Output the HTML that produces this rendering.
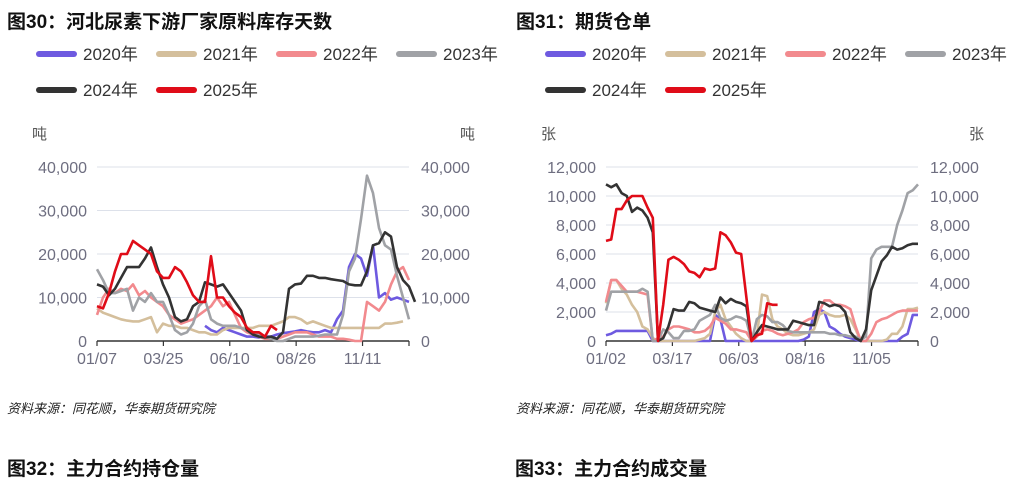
<!DOCTYPE html>
<html><head><meta charset="utf-8">
<style>
body{margin:0;width:1026px;height:495px;background:#fff;overflow:hidden;font-family:"Liberation Sans","Noto Sans CJK SC",sans-serif;}
svg{position:absolute;left:0;top:0}
</style></head>
<body>
<svg id="s" width="1026" height="495"></svg>
<script>
// ---- Chart 1 data (tons, thousands) ----
const c1Ticks = ["01/07","03/25","06/10","08/26","11/11"];
const c1YTicks = [0,10000,20000,30000,40000];
const c1_2020 = [null,null,null,null,null,null,null,null,null,null,null,null,null,null,null,null,null,null,3.5,2.5,2,3,2.5,2,1.5,1,1,0.8,1,1,1.5,1.8,2,2.2,2.5,2.2,2,2,2.5,2,5,7,17,20,19,15,22,10,11,9.5,10,9.5,9];
const c1_2021 = [7.5,6.5,6,5.5,5,4.7,4.5,4.5,5,5.5,2,4,3.5,3.5,3,3,2.5,2,2,1.5,1.5,2.5,3,3,3,3,3,3.5,3.5,3.5,4,4.5,5.5,5.5,5,4,4.5,4,3.5,3,3,3,3,3,3,3,3,3,4,4,4.2,4.5];
const c1_2022 = [6,10,12,11,12,11.5,13,10.5,11.5,10,9,8,6,5,4,4.5,5,6,7,8,10,8,9,6,3,2,1.5,1,0.5,0.5,0.5,1,1.5,2,2,2,1.5,1,1,1,0.5,0.5,0.3,0,0,9,8,7,9,13,16,17,14];
const c1_2023 = [16.5,14,11,11,11.5,12,7,10,9,11,9,9,6,2.5,1.5,2,4,8,9.5,5,4,3.5,3.5,3.5,3,2.5,2,1.5,1,0.5,0,0,0.5,1,1,1,1,1.2,1.5,1.5,1.5,6,16,19,28,38,34,26,22,21,15,10,5];
const c1_2024 = [13,12.5,10.5,12,14.5,17,17,17,19,21.5,17,13,10,5.5,4.5,5,8,9,13.5,13,12.5,13,11,9,7,2.5,1.5,1,0.8,1,0.5,2,12,13,13.2,15,15,14.5,14.5,14.2,14,13.8,13,12.8,12.8,16,22,22.5,25,24,17,14,12.5,9];
const c1_2025 = [8,7.5,11,16,20,20,23,22,21,20,16,14.5,14.5,17,16,13.5,10.5,9,9,19.5,10,10,8,6.5,5.5,3,2,2,1,3.5,2.5];
// ---- Chart 2 data (sheets, thousands) ----
const c2Ticks = ["01/02","03/17","06/03","08/16","11/05"];
const c2YTicks = [0,2000,4000,6000,8000,10000,12000];
const c2_2020 = [0.4,0.5,0.7,0.7,0.7,0.7,0.7,0.7,0.7,0,0,0,0,0,0,0,0,0,0,0,0,1.8,1.5,0,0,0,0,0,0,0,0,0,0,0,0,0,0,0,0.1,0.3,2.0,2.2,2.0,1.0,0.8,0.5,0.3,0.2,0.1,0,0,0,0,0,0,0,0,0.3,0.5,1.8,1.8];
const c2_2021 = [2.6,4.2,4.2,3.6,3.2,2.5,2.0,1.0,0.8,0.2,0,0,0,0,0,0,0,0,0.1,0.2,0.5,2.0,2.5,1.5,1.0,0.5,0.2,0,0,0.3,3.2,3.1,1.5,1.0,0.8,0.5,0.4,0.4,0.5,0.6,0.8,1.8,2.0,1.8,1.7,1.7,1.8,1.5,0.8,0,0,0,0,0,0.1,0.5,0.5,1.0,2.2,2.2,2.3];
const c2_2022 = [2.7,4.2,4.2,3.8,3.4,3.4,3.4,3.3,3.2,0,0.2,0.3,0.8,1.0,1.0,0.9,0.8,0.6,0.6,0.7,1.0,1.6,1.4,1.2,0.8,0.8,0.7,0.6,0,0.3,0.7,0.8,0.7,0.5,0.4,0.5,0.6,0.8,1.3,1.5,1.6,2.0,2.8,2.8,2.5,2.5,2.4,2.2,1.0,0,0,0.5,1.3,1.5,1.6,1.8,2.0,2.1,2.1,2.1,2.1];
const c2_2023 = [2.1,3.4,3.4,3.4,3.4,3.4,3.4,3.6,3.4,0,0,0.8,0.6,0.2,0.2,0.7,0.7,0.8,1.4,1.6,1.8,2.5,1.6,1.4,1.5,1.7,1.6,1.4,0,1.5,1.8,1.7,1.3,1.3,1.1,0.7,0.6,0.6,0.6,0.6,0.6,0.6,0.6,0.5,0.5,0.4,0.4,0.3,0.3,0.1,0.3,5.7,6.3,6.5,6.5,6.5,8,9,10.2,10.4,10.8];
const c2_2024 = [10.8,10.6,10.8,10.2,10.0,8.9,9.2,9.0,8.5,7.5,0,0.2,1.0,2.2,2.1,2.1,2.7,2.6,2.3,2.2,2.1,2.0,3.0,2.6,2.9,2.7,2.6,2.4,0,0.6,1.1,1.0,0.9,0.8,0.8,0.8,1.4,1.3,1.2,1.1,1.1,2.7,2.6,2.4,2.5,2.4,2.0,0.6,0.2,0,0.8,3.5,4.5,5.5,5.9,6.5,6.3,6.4,6.6,6.7,6.7];
const c2_2025 = [6.9,7.0,9.1,9.1,9.7,10,10,10,9.2,8.5,0,2.5,5.6,5.8,5.6,5.3,4.8,4.7,4.4,5.0,4.9,5.0,7.5,7.3,6.8,6.1,6.0,3.0,0,0.4,0.5,2.6,2.5,2.5];

const legendNames = ["2020年","2021年","2022年","2023年","2024年","2025年"];
const colors = ["#6e5ae0","#d4bf9c","#f28a8e","#a0a2a6","#333333","#e00c18"];
const NS="http://www.w3.org/2000/svg";
const svg=document.getElementById('s');
function el(tag,attrs,parent){const e=document.createElementNS(NS,tag);for(const k in attrs)e.setAttribute(k,attrs[k]);(parent||svg).appendChild(e);return e;}
function txt(x,y,s,attrs,parent){const t=el('text',Object.assign({x:x,y:y},attrs),parent);t.textContent=s;return t;}

function drawChart(off,title,unit,yTicks,yMax,xTicks,series,nPts,name){
  const g=el('g',{});
  
  
  const x0=97+off,x1=409+off,yB=341,yT=167;
  const ys=v=>yB-(v/yMax)*(yB-yT);
  const xs=i=>x0+i*(x1-x0)/(nPts-1);
  const t=txt(7+off,28,title,{'font-size':19,'font-weight':'bold',fill:'#111'},g);
  
  
  for(let k=0;k<6;k++){
    const lx=39+off+(k%4)*120, ly=k<4?54:90;
    const lg=el('g',{},g);
    
    
    el('line',{x1:lx,y1:ly,x2:lx+35,y2:ly,stroke:colors[k],'stroke-width':6,'stroke-linecap':'round'},lg);
    txt(lx+44,ly+6,legendNames[k],{'font-size':17,fill:'#333'},lg);
  }
  const u1=txt(32+off,139,unit,{'font-size':15,fill:'#555'},g);
  
  
  const u2=txt(460+off,139,unit,{'font-size':15,fill:'#555'},g);
  
  
  yTicks.forEach(v=>{
    const y=ys(v/1000);
    if(v>0) el('line',{x1:x0,y1:y,x2:x1,y2:y,stroke:'#dde1ea','stroke-width':1},g);
    const a=txt(87+off,y+6,v.toLocaleString('en-US'),{'font-size':16,fill:'#6e6e80','text-anchor':'end'},g);
    
    
    const b=txt(421+off,y+6,v.toLocaleString('en-US'),{'font-size':16,fill:'#6e6e80'},g);
    
    
  });
  el('line',{x1:x0,y1:yB,x2:x1,y2:yB,stroke:'#333','stroke-width':1.5},g);
  const step=(x1-x0)/4.7;
  xTicks.forEach((s,i)=>{
    const x=x0+i*step;
    el('line',{x1:x,y1:yB,x2:x,y2:yB+5,stroke:'#333','stroke-width':1.2},g);
    const l=txt(x,364,s,{'font-size':16,fill:'#6e6e80','text-anchor':'middle'},g);
    
    
  });
  el('line',{x1:x1,y1:yB,x2:x1,y2:yB+5,stroke:'#333','stroke-width':1.2},g);
  series.forEach((arr,k)=>{
    let d='';let pen=false;
    arr.forEach((v,i)=>{ if(v===null){pen=false;return;} d+=(pen?'L':'M')+xs(i).toFixed(1)+','+ys(v).toFixed(1); pen=true;});
    const p=el('path',{d:d,fill:'none',stroke:colors[k],'stroke-width':2.6,'stroke-linejoin':'round'},g);
    
    
  });
  const src=txt(7+off,413,'资料来源：同花顺，华泰期货研究院',{'font-size':13,fill:'#222','font-style':'italic'},g);
  
  
}
drawChart(0,'图30：河北尿素下游厂家原料库存天数','吨',c1YTicks,40,c1Ticks,[c1_2020,c1_2021,c1_2022,c1_2023,c1_2024,c1_2025],53,'chart-fig30');
drawChart(509,'图31：期货仓单','张',c2YTicks,12,c2Ticks,[c2_2020,c2_2021,c2_2022,c2_2023,c2_2024,c2_2025],61,'chart-fig31');
const t32=txt(7,475,'图32：主力合约持仓量',{'font-size':19,'font-weight':'bold',fill:'#111'});


const t33=txt(515,475,'图33：主力合约成交量',{'font-size':19,'font-weight':'bold',fill:'#111'});


</script>
</body></html>
